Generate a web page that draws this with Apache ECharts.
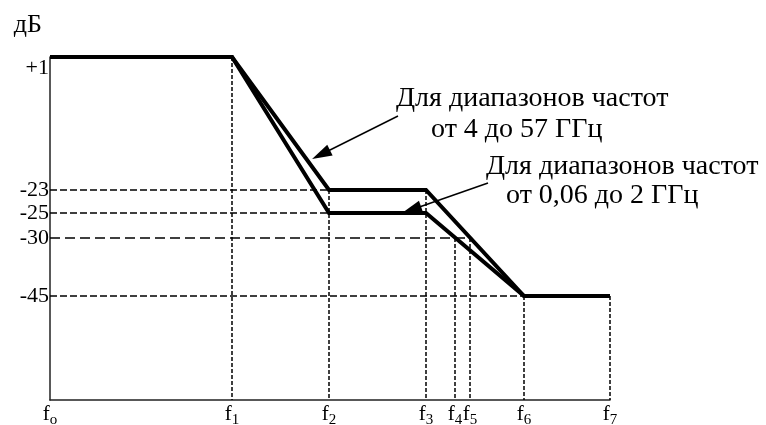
<!DOCTYPE html>
<html>
<head>
<meta charset="utf-8">
<script src="https://cdn.jsdelivr.net/npm/echarts@6/dist/echarts.min.js"></script>
<style>html,body{margin:0;padding:0;background:#fff}#c{width:766px;height:425px}</style>
</head>
<body>
<div id="c"></div>
<script>
// ---- data (schematic diagram) ----
const fSubs = ['o', '1', '2', '3', '4', '5', '6', '7'];          // frequency marks f_o ... f_7
const fScale = [0, 182, 279, 376, 405, 420, 474, 560];          // schematic position of each mark along the frequency axis
const dbLabels = ['+1', '-23', '-25', '-30', '-45'];            // attenuation levels, dB
const dbScale = [343, 210, 187, 162, 104];                      // schematic position of each level on the dB axis
const curveHigh = [['o', '+1'], ['1', '+1'], ['2', '-23'], ['3', '-23'], ['6', '-45'], ['7', '-45']]; // 4 ... 57 GHz
const curveLow  = [['o', '+1'], ['1', '+1'], ['2', '-25'], ['3', '-25'], ['6', '-45'], ['7', '-45']]; // 0.06 ... 2 GHz
const hGuides = [['-23', '2'], ['-25', '2'], ['-30', '5'], ['-45', '6']];
const vGuides = [['1', '+1'], ['2', '-23'], ['3', '-23'], ['4', '-30'], ['5', '-30'], ['6', '-45'], ['7', '-45']];
const yName = 'дБ';
const note1 = ['Для диапазонов частот', 'от 4 до 57 ГГц'];
const note2 = ['Для диапазонов частот', 'от 0,06 до 2 ГГц'];

const FONT = '"Liberation Serif", "Times New Roman", serif';
const fx = s => fScale[fSubs.indexOf(s)];
const fy = l => dbScale[dbLabels.indexOf(l)];
const toPts = c => c.map(p => [fx(p[0]), fy(p[1])]);

const chart = echarts.init(document.getElementById('c'), null, {renderer: 'canvas'});

const guideLine = (dash) => ({type: dash, width: 1.5, color: '#000', dashOffset: 0});

const hGuideData = hGuides.map(g => {
  const dash = g[0] === '-30' ? [10, 5] : [7, 3];
  return [{coord: [0, fy(g[0])], lineStyle: guideLine(dash)}, {coord: [fx(g[1]), fy(g[0])]}];
});
const vGuideData = vGuides.map(g => [
  {coord: [fx(g[0]), fy(g[1])], lineStyle: guideLine([4, 2])},
  {coord: [fx(g[0]), 0]}
]);

const option = {
  animation: false,
  backgroundColor: '#fff',
  grid: {left: 50, right: 156, top: 57, bottom: 25, containLabel: false, outerBoundsMode: 'none'},
  xAxis: {
    type: 'value', min: 0, max: fScale[fScale.length - 1],
    splitLine: {show: false},
    axisTick: {show: false},
    axisLine: {show: true, lineStyle: {color: '#222', width: 1.5}},
    axisLabel: {
      customValues: fScale,
      margin: 4,
      formatter: v => '{f|f}{s|' + fSubs[fScale.indexOf(v)] + '}',
      rich: {
        f: {fontFamily: FONT, fontSize: 21, color: '#000', verticalAlign: 'bottom', padding: [0, 0, 3, 0]},
        s: {fontFamily: FONT, fontSize: 15, color: '#000', verticalAlign: 'bottom'}
      }
    }
  },
  yAxis: {
    type: 'value', min: 0, max: dbScale[0],
    name: yName, nameLocation: 'end', nameGap: 19,
    nameTextStyle: {fontFamily: FONT, fontSize: 26, color: '#000', align: 'right', padding: [0, 8, 0, 0]},
    splitLine: {show: false},
    axisTick: {show: false},
    axisLine: {show: true, lineStyle: {color: '#222', width: 1.5}},
    axisLabel: {
      customValues: dbScale,
      margin: 1,
      formatter: v => {
        const l = dbLabels[dbScale.indexOf(v)];
        return l === '+1' ? '{up|' + l + '}' : '{n|' + l + '}';
      },
      rich: {
        n: {fontFamily: FONT, fontSize: 22, color: '#000'},
        up: {fontFamily: FONT, fontSize: 22, color: '#000', padding: [22, 0, 0, 0]}
      }
    }
  },
  series: [
    {
      type: 'line', name: 'guides', data: [], silent: true,
      markLine: {
        silent: true, symbol: ['none', 'none'], animation: false,
        label: {show: false},
        lineStyle: {color: '#000', width: 1.5},
        data: hGuideData.concat(vGuideData)
      },
      z: 1
    },
    {
      type: 'line', name: note2.join(' '), data: toPts(curveLow), clip: false,
      showSymbol: false, symbol: 'none',
      lineStyle: {color: '#000', width: 4, join: 'miter'}, z: 3
    },
    {
      type: 'line', name: note1.join(' '), data: toPts(curveHigh), clip: false,
      showSymbol: false, symbol: 'none',
      lineStyle: {color: '#000', width: 4, join: 'miter'}, z: 3,
      markLine: {
        silent: true, animation: false, label: {show: false},
        lineStyle: {color: '#000', width: 1.5, type: 'solid'},
        symbol: ['none', 'triangle'],
        data: [
          [{coord: [348, 284], symbol: 'none'}, {coord: [271, 245.5], symbol: 'triangle', symbolSize: [12, 20]}],
          [{coord: [438, 217], symbol: 'none'}, {coord: [361.5, 190.3], symbol: 'triangle', symbolSize: [12, 20]}]
        ]
      }
    }
  ],
  graphic: [
    {type: 'text', left: 396, top: 85, style: {text: note1[0], font: '28px ' + FONT, fill: '#000'}},
    {type: 'text', left: 431, top: 116, style: {text: note1[1], font: '28px ' + FONT, fill: '#000'}},
    {type: 'text', left: 486, top: 153, style: {text: note2[0], font: '28px ' + FONT, fill: '#000'}},
    {type: 'text', left: 506, top: 182, style: {text: note2[1], font: '28px ' + FONT, fill: '#000'}}
  ]
};
chart.setOption(option);
</script>
</body>
</html>
